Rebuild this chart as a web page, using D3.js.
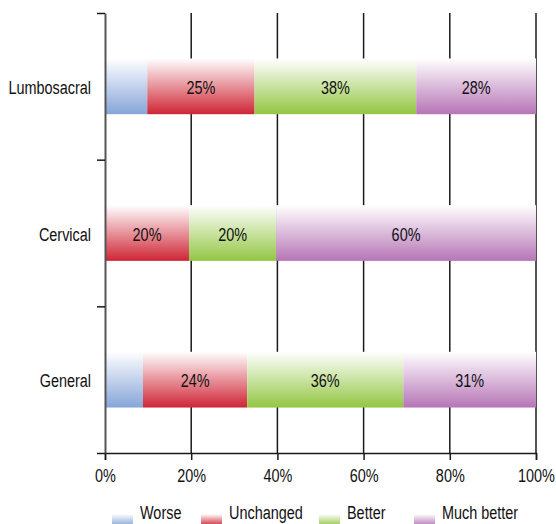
<!DOCTYPE html>
<html><head><meta charset="utf-8">
<script src="https://cdn.jsdelivr.net/npm/d3@7"></script>
<style>
body{margin:0;background:#fff;}
text{font-family:"Liberation Sans",Arial,sans-serif;fill:#111;}
</style></head><body>
<svg id="c" width="556" height="524"></svg>
<script>
const categories = ["Lumbosacral", "Cervical", "General"];
const seriesNames = ["Worse", "Unchanged", "Better", "Much better"];
const worse = [9.8, 0, 8.8];
const unchanged = [24.9, 19.5, 24.2];
const better = [37.5, 20.2, 36.2];
const muchBetter = [27.8, 60.3, 30.8];
const xTicks = [0, 20, 40, 60, 80, 100];
const colors = ["#86a5d8", "#cf2535", "#93c643", "#b675b6"];
const SX = 0.76, FS = 19;

const svg = d3.select("#c");
const x = d3.scaleLinear().domain([0, 100]).range([105, 536]);
const y = d3.scaleBand().domain(categories).range([13, 453]).paddingInner(0.62).paddingOuter(0.31);
const yb = d3.scaleLinear().domain([0, 3]).range([453, 13]);

const defs = svg.append("defs");
colors.forEach((c, i) => {
  const g = defs.append("linearGradient").attr("id", "g" + i).attr("x1", 0).attr("y1", 0).attr("x2", 0).attr("y2", 1);
  g.append("stop").attr("offset", "0%").attr("stop-color", "#ffffff");
  g.append("stop").attr("offset", "100%").attr("stop-color", c);
});

// gridlines
svg.append("g").selectAll("line").data(xTicks.slice(1)).join("line")
  .attr("x1", d => x(d)).attr("x2", d => x(d)).attr("y1", 13).attr("y2", 453)
  .attr("stroke", "#1a1a1a").attr("stroke-width", 1.5);

// bars
const rows = categories.map((c, i) => ({cat: c, vals: [worse[i], unchanged[i], better[i], muchBetter[i]]}));
const stacked = d3.stack().keys([0, 1, 2, 3]).value((d, k) => d.vals[k])(rows);
const gBars = svg.append("g");
stacked.forEach((layer, k) => {
  gBars.selectAll(".b" + k).data(layer).join("rect")
    .attr("x", d => x(d[0])).attr("width", d => x(d[1]) - x(d[0]))
    .attr("y", d => y(d.data.cat)).attr("height", y.bandwidth())
    .attr("fill", "url(#g" + k + ")");
  gBars.selectAll(".t" + k).data(layer.filter(d => d[1] - d[0] >= 15)).join("text")
    .attr("transform", d => `translate(${(x(d[0]) + x(d[1])) / 2},${y(d.data.cat) + y.bandwidth() / 2 + 7.5}) scale(${SX},1)`)
    .attr("text-anchor", "middle").attr("font-size", FS)
    .text(d => Math.round(d[1] - d[0]) + "%");
});

// x axis
const xa = svg.append("g").attr("transform", "translate(0,453)")
  .call(d3.axisBottom(x).tickValues(xTicks).tickFormat(d => d + "%").tickSize(7).tickPadding(9));
xa.select(".domain").attr("stroke", "#1a1a1a").attr("stroke-width", 1.5);
xa.selectAll(".tick line").attr("stroke", "#1a1a1a").attr("stroke-width", 1.5);
xa.selectAll("text").attr("font-size", FS).attr("font-family", null).style("fill", "#111")
  .attr("transform", `scale(${SX},1)`);

// y axis
const ya = svg.append("g").attr("transform", "translate(105,0)")
  .call(d3.axisLeft(yb).tickValues([0, 1, 2, 3]).tickFormat("").tickSize(8).tickSizeOuter(0));
ya.select(".domain").attr("stroke", "#555").attr("stroke-width", 2);
ya.selectAll(".tick line").attr("stroke", "#1a1a1a").attr("stroke-width", 1.5);

svg.append("g").selectAll("text").data(categories).join("text")
  .attr("transform", d => `translate(91,${y(d) + y.bandwidth() / 2 + 7.5}) scale(${SX},1)`)
  .attr("text-anchor", "end").attr("font-size", FS).text(d => d);

// legend
const legX = [112, 201, 319, 414];
const lg = svg.append("g").selectAll("g").data(seriesNames).join("g")
  .attr("transform", (d, i) => `translate(${legX[i]},0)`);
lg.append("rect").attr("width", 21).attr("height", 12).attr("y", 514).attr("fill", (d, i) => "url(#g" + i + ")");
lg.append("text").attr("transform", `translate(28,519) scale(${SX},1)`).attr("font-size", FS).text(d => d);
</script></body></html>
